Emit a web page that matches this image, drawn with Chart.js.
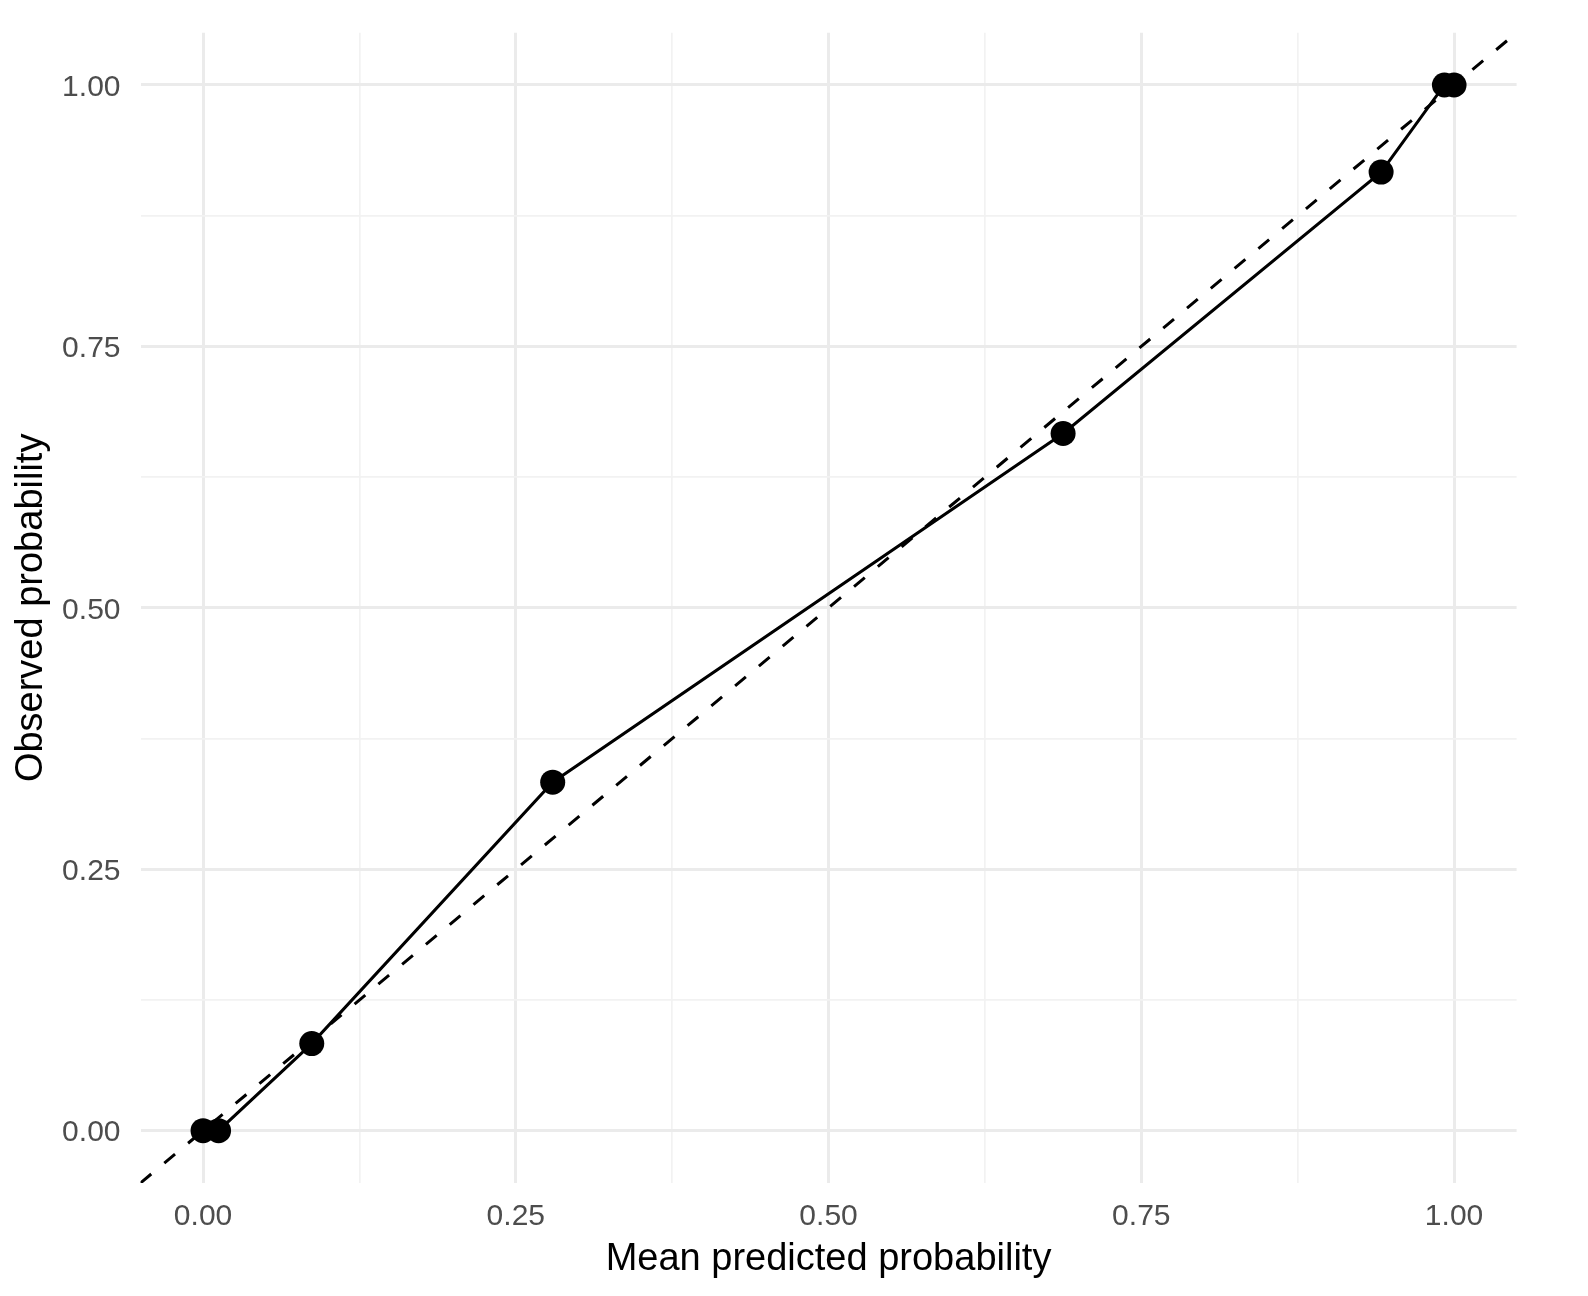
<!DOCTYPE html>
<html>
<head>
<meta charset="utf-8">
<script src="https://cdn.jsdelivr.net/npm/chart.js@4"></script>
<style>
html,body{margin:0;padding:0;background:#fff;}
#wrap{width:1588px;height:1296px;position:relative;}
</style>
</head>
<body>
<div id="wrap"><canvas id="c" width="1588" height="1296"></canvas></div>
<script>
const predicted = [0.0, 0.0124, 0.0869, 0.2795, 0.6875, 0.9417, 0.9923, 1.0];
const observed  = [0.0, 0.0, 0.0833, 0.3333, 0.6667, 0.9167, 1.0, 1.0];
const diagX = [-0.05, 1.05];
const diagY = [-0.05, 1.05];
const tickValues = [0, 0.125, 0.25, 0.375, 0.5, 0.625, 0.75, 0.875, 1.0];
const xTitle = 'Mean predicted probability';
const yTitle = 'Observed probability';

const calPts = predicted.map((x, i) => ({x: x, y: observed[i]}));
const diagPts = diagX.map((x, i) => ({x: x, y: diagY[i]}));

const isMajor = v => Math.abs(v * 4 - Math.round(v * 4)) < 1e-9;
const FONT = "'Liberation Sans', Arial, sans-serif";

function axis(title, horizontal) {
  return {
    type: 'linear',
    min: -0.05, max: 1.05,
    afterBuildTicks: s => { s.ticks = tickValues.map(v => ({value: v})); },
    afterFit: s => {
      if (horizontal) s.height = 113; else s.width = 140.5;
      s.paddingTop = 0; s.paddingBottom = 0; s.paddingLeft = 0; s.paddingRight = 0;
    },
    border: {display: false},
    grid: {
      drawTicks: false,
      color: c => isMajor(c.tick.value) ? '#ebebeb' : '#f2f2f2',
      lineWidth: c => isMajor(c.tick.value) ? 3 : 1.7
    },
    ticks: {
      autoSkip: false,
      maxRotation: 0,
      padding: horizontal ? 16 : 20,
      labelOffset: horizontal ? 0 : 2.5,
      color: '#4d4d4d',
      font: {family: FONT, size: 30},
      callback: v => isMajor(v) ? v.toFixed(2) : ''
    },
    title: {
      display: true, text: title, color: '#000',
      font: {family: FONT, size: 38},
      padding: horizontal ? {top: 0, bottom: 14} : {top: 9, bottom: 0}
    }
  };
}

new Chart(document.getElementById('c'), {
  type: 'scatter',
  data: {
    datasets: [
      {
        label: 'calibration',
        data: calPts,
        showLine: true,
        borderColor: '#000',
        backgroundColor: '#000',
        borderWidth: 3,
        pointRadius: 12.5,
        pointHoverRadius: 12.5,
        pointBorderWidth: 0
      },
      {
        label: 'perfect',
        data: diagPts,
        showLine: true,
        borderColor: '#000',
        borderWidth: 3,
        borderDash: [14, 17],
        borderCapStyle: 'butt',
        pointRadius: 0
      }
    ]
  },
  options: {
    responsive: false,
    animation: false,
    layout: {padding: {left: 0, top: 32.7, right: 71.4, bottom: 0}},
    plugins: {legend: {display: false}, tooltip: {enabled: false}},
    scales: {
      x: axis(xTitle, true),
      y: axis(yTitle, false)
    }
  }
});
</script>
</body>
</html>
